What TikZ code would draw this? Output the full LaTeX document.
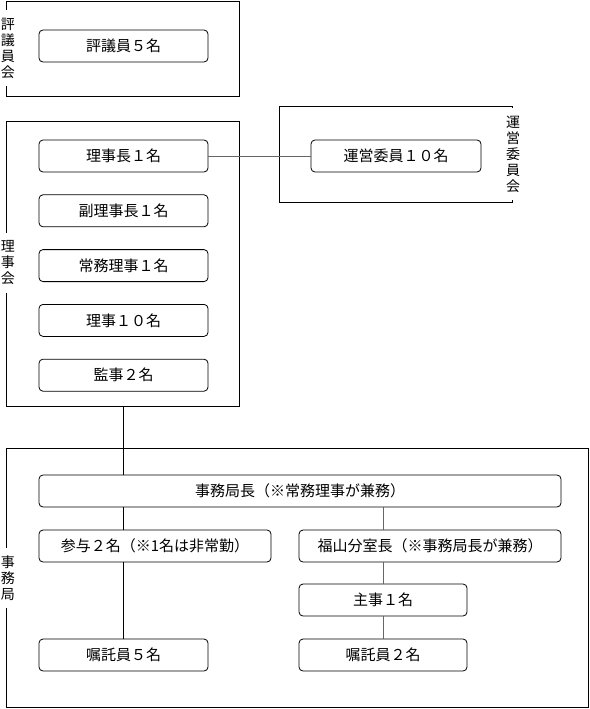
\documentclass[tikz,border=0pt]{standalone}
\usepackage{fontspec}
\newfontfamily\jp{Noto Sans CJK JP}
\usepackage{tikz}
\usetikzlibrary{positioning}
\tikzstyle{post}=[draw,rounded corners=4pt,minimum height=32pt,minimum width=169pt,inner sep=1pt,font=\jp\fontsize{15}{17}\selectfont]
\tikzstyle{frame}=[draw,line width=0.9pt]
\tikzstyle{tag}=[fill=white,inner xsep=1pt,inner ysep=8pt,align=center,font=\jp\fontsize{14}{16}\selectfont]

\begin{document}
\begin{tikzpicture}[x=1pt,y=-1pt,line width=0.8pt,
link/.style={draw,black!60}]
\useasboundingbox (0,0) rectangle (589,709);
% 評議員会
\draw[frame] (6,1) rectangle (239,96);
\node[tag] (hyogiinkai) at (8,48) {評\\議\\員\\会};
\node[post] (hyogiin) at (123.5,46) {評議員５名};
% 理事会
\draw[frame] (6,121) rectangle (239,406);
\node[tag] (rijikai) at (8,263) {理\\事\\会};
\node[post] (richo) at (123.5,156) {理事長１名};
\node[post,below=22pt of richo] (fukuricho) {副理事長１名};
\node[post,below=22pt of fukuricho] (jomu) {常務理事１名};
\node[post,below=22pt of jomu] (riji) {理事１０名};
\node[post,below=22pt of riji] (kanji) {監事２名};
\coordinate (rijikai-s) at (123,406);
% 運営委員会
\draw[frame] (279,106) rectangle (512,202);
\node[tag] (uneikai) at (513,154) {運\\営\\委\\員\\会};
\node[post,minimum width=170pt] (unei) at (396,156) {運営委員１０名};
\draw[link] (richo) -- (unei);
% 事務局
\draw[frame] (6,448) rectangle (588,707);
\node[tag] (jimukyoku) at (8,578) {事\\務\\局};
\node[post,minimum width=522pt] (kyokucho) at (300,491) {事務局長（※常務理事が兼務）};
\node[post,minimum width=232pt] (sanyo) at (155,546) {参与２名（※1名は非常勤）};
\node[post,minimum width=262pt] (fukuyama) at (430,546) {福山分室長（※事務局長が兼務）};
\node[post,minimum width=168pt] (shuji) at (383,600) {主事１名};
\node[post] (shokutaku5) at (123.5,655) {嘱託員５名};
\node[post,minimum width=168pt] (shokutaku2) at (383,655) {嘱託員２名};

\draw (rijikai-s) -- (kyokucho.north -| rijikai-s);
\draw (kyokucho.south -| shokutaku5) -- (sanyo.north -| shokutaku5);
\draw (sanyo.south -| shokutaku5) -- (shokutaku5);
\draw[link] (kyokucho.south -| shuji) -- (fukuyama.north -| shuji);
\draw[link] (fukuyama.south -| shuji) -- (shuji);
\draw[link] (shuji) -- (shokutaku2);
\end{tikzpicture}
\end{document}
